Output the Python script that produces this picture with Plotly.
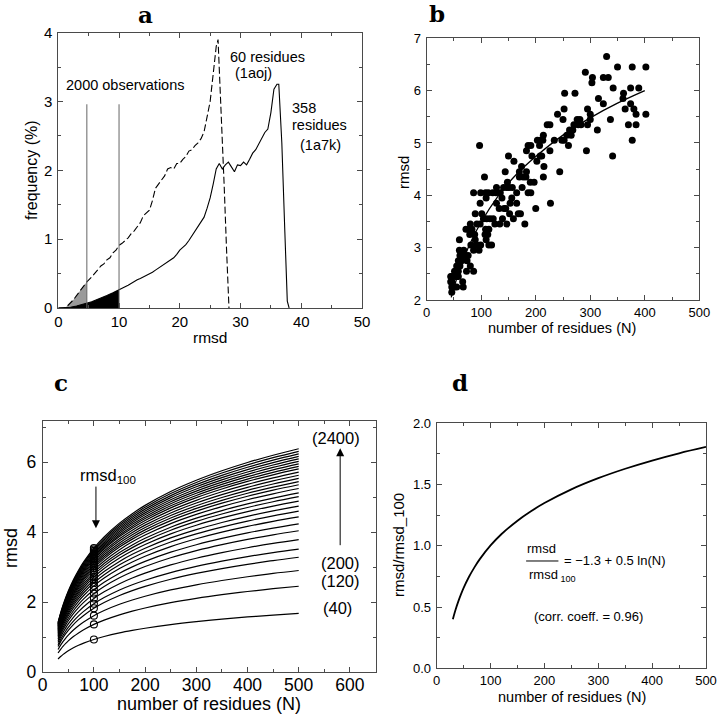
import plotly.graph_objects as go

# ---------------- data ----------------
# panel a: frequency distributions of rmsd
a_dash_rmsd = [0.0, 1.0, 1.5, 2.0, 2.5, 3.0, 3.5, 4.0, 4.7, 5.5, 6.0, 6.5, 7.0, 7.5, 8.0, 8.5, 9.0, 9.5, 10.0,
               10.5, 11.0, 11.5, 12.0, 12.5, 13.0, 13.5, 14.0, 14.5, 15.0, 15.5, 16.0, 16.5, 17.0, 17.5, 18.0,
               18.5, 19.0, 19.5, 20.0, 20.5, 21.0, 21.5, 22.0, 22.5, 23.0, 23.5, 24.0, 24.5, 25.0, 25.5, 26.0,
               26.3, 26.8, 27.3, 27.7, 28.1]
a_dash_freq = [0.0, 0.0, 0.03, 0.07, 0.12, 0.18, 0.24, 0.30, 0.38, 0.45, 0.50, 0.55, 0.61, 0.64, 0.70, 0.73, 0.80,
               0.84, 0.91, 0.94, 0.98, 1.02, 1.08, 1.12, 1.18, 1.24, 1.34, 1.38, 1.42, 1.56, 1.74, 1.80, 1.86,
               1.92, 2.02, 2.04, 2.02, 2.10, 2.10, 2.16, 2.20, 2.28, 2.30, 2.36, 2.40, 2.46, 2.56, 2.76, 3.00,
               3.40, 3.80, 3.90, 2.95, 1.80, 0.85, 0.0]
a_solid_rmsd = [0.0, 1.5, 2.0, 3.0, 4.0, 4.7, 5.5, 6.0, 7.0, 8.0, 9.0, 10.0, 10.5, 11.0, 11.5, 12.0, 12.5, 13.0,
                13.5, 14.0, 14.5, 15.0, 15.5, 16.0, 16.5, 17.0, 17.5, 18.0, 18.5, 19.0, 19.5, 20.0, 20.5, 21.0,
                21.5, 22.0, 22.5, 23.0, 23.5, 24.0, 24.5, 25.0, 25.5, 26.0, 26.5, 27.0, 27.5, 28.0, 28.5, 29.0,
                29.5, 30.0, 30.5, 31.0, 31.5, 32.0, 32.5, 33.0, 33.5, 34.0, 34.5, 35.0, 35.5, 36.0, 36.3, 36.8,
                37.3, 37.7, 38.0]
a_solid_freq = [0.0, 0.0, 0.01, 0.03, 0.05, 0.07, 0.09, 0.11, 0.14, 0.18, 0.22, 0.27, 0.29, 0.31, 0.33, 0.36,
                0.38, 0.41, 0.43, 0.45, 0.47, 0.50, 0.52, 0.55, 0.58, 0.61, 0.63, 0.66, 0.70, 0.73, 0.78, 0.84,
                0.88, 0.92, 0.98, 1.05, 1.10, 1.18, 1.26, 1.32, 1.45, 1.60, 1.80, 2.02, 2.10, 2.02, 2.08, 2.12,
                2.05, 1.98, 2.08, 2.07, 2.12, 2.08, 2.16, 2.25, 2.30, 2.38, 2.45, 2.55, 2.60, 2.84, 3.18, 3.25,
                3.25, 2.40, 1.10, 0.10, 0.0]
a_cut_grey = 4.7
a_cut_black = 10.0
a_obs_height = 2.96

# panel b: rmsd vs number of residues
b_n = [330, 350, 377, 402, 291, 304, 324, 333, 303, 342, 374, 389, 253, 272, 361, 315, 360, 324, 374,
       252, 295, 364, 380, 240, 300, 384, 402, 250, 276, 281, 300, 337,
       221, 226, 270, 278, 283, 295, 370, 384, 262, 268, 313, 214, 257, 265,
       203, 208, 213, 234, 248, 252, 377, 97, 186, 191, 207, 260, 183, 226, 293,
       150, 193, 208, 211, 341, 160, 202, 174, 215, 144, 170, 183, 244,
       106, 170, 177, 182, 214, 148, 190, 197, 128, 141, 147, 151, 157, 175,
       86, 99, 108, 113, 121, 127, 135, 165, 186, 191, 109, 138, 156,
       98, 128, 153, 165, 227, 133, 142, 145, 200, 89, 101, 152, 168, 172,
       104, 110, 116, 122, 139, 159, 80, 92, 98, 125, 134, 147, 180,
       72, 76, 83, 108, 114, 79, 88, 107, 112, 60, 89, 109, 81, 92, 99, 114, 119,
       60, 68, 86, 96, 61, 67, 72, 76, 58, 64, 74, 55, 61, 80, 51, 58, 73, 86,
       44, 46, 52, 55, 58, 44, 46, 66, 46, 51, 55, 67, 46]
b_rmsd = [6.65, 6.45, 6.45, 6.45, 6.35, 6.25, 6.25, 6.25, 6.15, 6.05, 6.05, 6.05, 5.95, 5.95, 5.95, 5.85, 5.85,
          5.75, 5.75, 5.65, 5.65, 5.65, 5.65, 5.55, 5.55, 5.55, 5.55, 5.45, 5.45, 5.45, 5.45, 5.45,
          5.35, 5.35, 5.35, 5.35, 5.35, 5.35, 5.35, 5.35, 5.25, 5.25, 5.25, 5.15, 5.15, 5.15,
          5.05, 5.05, 5.05, 5.05, 5.05, 5.05, 5.05, 4.95, 4.95, 4.95, 4.95, 4.95, 4.85, 4.85, 4.85,
          4.75, 4.75, 4.75, 4.75, 4.75, 4.65, 4.65, 4.55, 4.55, 4.45, 4.45, 4.45, 4.45,
          4.35, 4.35, 4.35, 4.35, 4.35, 4.25, 4.25, 4.25, 4.15, 4.15, 4.15, 4.15, 4.15, 4.15,
          4.05, 4.05, 4.05, 4.05, 4.05, 4.05, 4.05, 4.05, 4.05, 4.05, 3.95, 3.95, 3.95,
          3.85, 3.85, 3.85, 3.85, 3.85, 3.75, 3.75, 3.75, 3.75, 3.65, 3.65, 3.65, 3.65, 3.65,
          3.55, 3.55, 3.55, 3.55, 3.55, 3.55, 3.45, 3.45, 3.45, 3.45, 3.45, 3.45, 3.45,
          3.35, 3.35, 3.35, 3.35, 3.35, 3.25, 3.25, 3.25, 3.25, 3.15, 3.15, 3.15, 3.05, 3.05, 3.05, 3.05, 3.05,
          2.95, 2.95, 2.95, 2.95, 2.85, 2.85, 2.85, 2.85, 2.75, 2.75, 2.75, 2.65, 2.65, 2.65, 2.55, 2.55, 2.55, 2.55,
          2.45, 2.45, 2.45, 2.45, 2.45, 2.35, 2.35, 2.35, 2.25, 2.25, 2.25, 2.25, 2.15]
b_fit_n = [45, 60, 80, 100, 130, 160, 200, 250, 300, 350, 400]
b_fit_rmsd = [2.05, 2.57, 3.09, 3.49, 3.97, 4.35, 4.74, 5.15, 5.48, 5.76, 6.00]

# panel d: rmsd / rmsd_100 profile vs N
d_n = [30, 35, 40, 45, 50, 60, 70, 80, 100, 120, 150, 175, 200, 250, 300, 350, 400, 450, 500]
d_ratio = [0.401, 0.478, 0.544, 0.603, 0.656, 0.747, 0.824, 0.891, 1.003, 1.094, 1.205, 1.282, 1.349,
           1.461, 1.552, 1.629, 1.696, 1.755, 1.807]

# panel c: rmsd_100 of each curve (read from the open circles at N = 100)
c_rmsd100 = [0.93, 1.36, 1.61, 1.82, 1.95, 2.10, 2.24, 2.35, 2.46, 2.55, 2.63, 2.71, 2.78, 2.84, 2.91,
             2.97, 3.02, 3.07, 3.12, 3.17, 3.22, 3.26, 3.30, 3.34, 3.38, 3.42, 3.46, 3.50, 3.54]
c_labels = ["(2400)", "(200)", "(120)", "(40)"]

# ---------------- figure ----------------
W, H = 718, 720
def px(x):
    return x / W
def py(y):
    return 1 - y / H

TXT = "Liberation Sans, Arial, sans-serif"
FRAME = "#4a4a4a"

fig = go.Figure()

# panel a
grey_x = [x for x in a_dash_rmsd if x <= a_cut_grey]
grey_y = [y for x, y in zip(a_dash_rmsd, a_dash_freq) if x <= a_cut_grey]
fig.add_trace(go.Scatter(x=grey_x, y=grey_y, fill="tozeroy", fillcolor="#9a9a9a", mode="lines",
                         line=dict(width=0), xaxis="x", yaxis="y", hoverinfo="skip"))
blk_x = [x for x in a_solid_rmsd if x <= a_cut_black]
blk_y = [y for x, y in zip(a_solid_rmsd, a_solid_freq) if x <= a_cut_black]
fig.add_trace(go.Scatter(x=blk_x, y=blk_y, fill="tozeroy", fillcolor="black", mode="lines",
                         line=dict(width=0), xaxis="x", yaxis="y", hoverinfo="skip"))
fig.add_trace(go.Scatter(x=a_dash_rmsd, y=a_dash_freq, mode="lines",
                         line=dict(color="black", width=1.1, dash="7px,3px"), xaxis="x", yaxis="y"))
fig.add_trace(go.Scatter(x=a_solid_rmsd, y=a_solid_freq, mode="lines",
                         line=dict(color="black", width=1.1), xaxis="x", yaxis="y"))

# panel b
fig.add_trace(go.Scatter(x=b_n, y=b_rmsd, mode="markers",
                         marker=dict(color="black", size=7), xaxis="x2", yaxis="y2"))
fig.add_trace(go.Scatter(x=b_fit_n, y=b_fit_rmsd, mode="lines", line=dict(color="black", width=1.3, shape="spline"),
                         xaxis="x2", yaxis="y2"))

# panel c
ratio_at_100 = d_ratio[d_n.index(100)]
for r in c_rmsd100:
    fig.add_trace(go.Scatter(x=d_n, y=[r * v / ratio_at_100 for v in d_ratio], mode="lines",
                             line=dict(color="black", width=1.2, shape="spline"), xaxis="x3", yaxis="y3"))
fig.add_trace(go.Scatter(x=[100] * len(c_rmsd100), y=c_rmsd100, mode="markers",
                         marker=dict(symbol="circle-open", color="black", size=7, line=dict(width=1.1)),
                         xaxis="x3", yaxis="y3"))

# panel d
fig.add_trace(go.Scatter(x=d_n, y=d_ratio, mode="lines", line=dict(color="black", width=1.8, shape="spline"),
                         xaxis="x4", yaxis="y4"))


def ax(domain, rng, dtick, minor, size, anchor, fmt=None, standoff=0):
    d = dict(domain=domain, range=rng, anchor=anchor, showgrid=False, zeroline=False,
             showline=True, linecolor=FRAME, linewidth=1, mirror="ticks",
             ticks="inside", ticklen=5, tickcolor=FRAME, tickwidth=1,
             tickmode="linear", tick0=0, dtick=dtick, automargin=False,
             ticklabelstandoff=standoff,
             minor=dict(ticks="inside", ticklen=3, dtick=minor, tick0=0, tickcolor=FRAME, showgrid=False),
             tickfont=dict(family=TXT, size=size, color="black"), fixedrange=True)
    if fmt:
        d["tickformat"] = fmt
    return d

fig.update_layout(
    width=W, height=H, margin=dict(l=0, r=0, t=0, b=0, autoexpand=False),
    paper_bgcolor="white", plot_bgcolor="white", showlegend=False,
    xaxis=ax([px(58.3), px(362)], [0, 50], 10, 5, 15, "y"),
    yaxis=ax([py(308), py(32.7)], [0, 4], 1, 0.5, 15, "x", standoff=2),
    xaxis2=ax([px(426.7), px(699.3)], [0, 500], 100, 50, 13, "y2"),
    yaxis2=ax([py(300), py(38.3)], [2, 7], 1, 0.5, 13, "x2", standoff=2),
    xaxis3=ax([px(42.7), px(375.5)], [0, 650], 100, 50, 17.5, "y3", standoff=-3),
    yaxis3=ax([py(672), py(420.7)], [0, 7.18], 2, 1, 17.5, "x3", standoff=2),
    xaxis4=ax([px(436.7), px(706)], [0, 500], 100, 50, 13, "y4"),
    yaxis4=ax([py(668.3), py(423.3)], [0, 2], 0.5, 0.25, 13, "x4", ".1f", standoff=2),
)

ann = []
def paper_text(text, x, y, size, angle=0, family=TXT):
    ann.append(dict(text=text, x=px(x), y=py(y), xref="paper", yref="paper", showarrow=False,
                    xanchor="center", yanchor="middle", textangle=angle,
                    font=dict(family=family, size=size, color="black")))

# panel letters
LET = "DejaVu Serif, serif"
paper_text("<b>a</b>", 145.5, 14, 23, family=LET)
paper_text("<b>b</b>", 436.7, 13, 23, family=LET)
paper_text("<b>c</b>", 60.5, 382, 23, family=LET)
paper_text("<b>d</b>", 460, 382, 23, family=LET)

# axis titles
paper_text("rmsd", 210, 337, 15.5)
paper_text("frequency (%)", 31, 170, 16, angle=-90)
paper_text("number of residues (N)", 562, 328, 14.5)
paper_text("rmsd", 403, 173, 15, angle=-90)
paper_text("number of residues (N)", 209, 704, 18)
paper_text("rmsd", 11, 548, 18, angle=-90)
paper_text("number of residues (N)", 572, 697, 14.5)
paper_text("rmsd/rmsd_100", 398, 545, 15, angle=-90)

def data_text(text, x, y, xr, yr, size, xanchor="center"):
    ann.append(dict(text=text, x=x, y=y, xref=xr, yref=yr, showarrow=False, xanchor=xanchor,
                    yanchor="middle", font=dict(family=TXT, size=size, color="black")))

# panel a texts
data_text("2000 observations", 11.0, 3.24, "x", "y", 14.5)
data_text("60 residues", 28.0, 3.64, "x", "y", 14.5, "left")
data_text("(1aoj)", 28.8, 3.41, "x", "y", 14.5, "left")
data_text("358", 38.2, 2.91, "x", "y", 14.5, "left")
data_text("residues", 38.2, 2.66, "x", "y", 14.5, "left")
data_text("(1a7k)", 39.5, 2.37, "x", "y", 14.5, "left")

# panel c texts
data_text("rmsd<sub>100</sub>", 127, 5.6, "x3", "y3", 16.5)
data_text(c_labels[0], 573, 6.69, "x3", "y3", 16.5)
data_text(c_labels[1], 581, 3.11, "x3", "y3", 16.5)
data_text(c_labels[2], 581, 2.61, "x3", "y3", 16.5)
data_text(c_labels[3], 575, 1.82, "x3", "y3", 16.5)
ann.append(dict(x=104, y=4.11, ax=104, ay=5.34, xref="x3", yref="y3", axref="x3", ayref="y3",
                text="", showarrow=True, arrowhead=2, arrowsize=1.6, arrowwidth=1, arrowcolor="black"))
ann.append(dict(x=581, y=6.39, ax=581, ay=3.58, xref="x3", yref="y3", axref="x3", ayref="y3",
                text="", showarrow=True, arrowhead=2, arrowsize=1.6, arrowwidth=1, arrowcolor="black"))

# panel d texts
data_text("rmsd", 195, 0.98, "x4", "y4", 13)
data_text("rmsd<sub> 100</sub>", 167, 0.76, "x4", "y4", 13, "left")
data_text("= \u22121.3 + 0.5 ln(N)", 232, 0.876, "x4", "y4", 13, "left")
data_text("(corr. coeff. = 0.96)", 281.5, 0.42, "x4", "y4", 13)

fig.update_layout(annotations=ann)

shapes = [
    dict(type="line", x0=a_cut_grey, x1=a_cut_grey, y0=0, y1=a_obs_height, xref="x", yref="y",
         line=dict(color="#666666", width=1)),
    dict(type="line", x0=a_cut_black, x1=a_cut_black, y0=0, y1=a_obs_height, xref="x", yref="y",
         line=dict(color="#666666", width=1)),
    dict(type="line", x0=166, x1=226, y0=0.876, y1=0.876, xref="x4", yref="y4",
         line=dict(color="black", width=1)),
]
fig.update_layout(shapes=shapes)

# remove the default 8 px page margin so the figure fills the window exactly; hide the mode bar
fig.write_html("out.html", config={"displayModeBar": False},
               post_script="document.body.style.margin='0px';")
